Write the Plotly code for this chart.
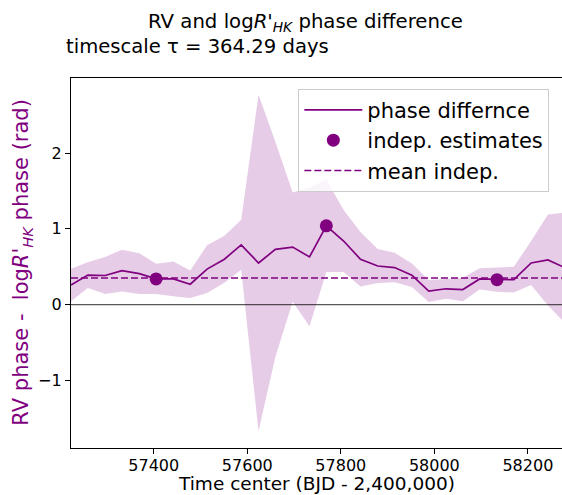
import plotly.graph_objects as go

# ---- data ----
time_center = [57223, 57259, 57296, 57332, 57369, 57405, 57442, 57478, 57514, 57551,
               57587, 57624, 57660, 57697, 57733, 57769, 57806, 57842, 57879, 57915,
               57952, 57988, 58025, 58061, 58097, 58134, 58170, 58207, 58243, 58280]
phase_diff = [0.26, 0.39, 0.385, 0.45, 0.41, 0.34, 0.34, 0.27, 0.47, 0.60,
              0.79, 0.55, 0.73, 0.76, 0.63, 1.04, 0.84, 0.60, 0.51, 0.49,
              0.39, 0.18, 0.21, 0.20, 0.34, 0.33, 0.33, 0.55, 0.59, 0.485]
phase_err = [0.215, 0.17, 0.245, 0.275, 0.27, 0.20, 0.23, 0.18, 0.315, 0.31,
             0.33, 2.22, 1.42, 0.72, 0.915, 0.61, 0.41, 0.36, 0.225, 0.195,
             0.155, 0.145, 0.13, 0.155, 0.14, 0.16, 0.17, 0.29, 0.60, 0.73]
indep_time = [57405, 57769, 58134]
indep_phase = [0.34, 1.04, 0.33]
mean_indep = 0.352

x_range = [57223, 58273]
y_range = [-1.89, 2.99]
x_ticks = [57400, 57600, 57800, 58000, 58200]
y_ticks = [-1, 0, 1, 2]

PURPLE = "#800080"
FONT = "DejaVu Sans"

upper = [p + e for p, e in zip(phase_diff, phase_err)]
lower = [p - e for p, e in zip(phase_diff, phase_err)]

fig = go.Figure()

# error band
fig.add_trace(go.Scatter(x=time_center, y=lower, mode="lines", line=dict(width=0),
                         showlegend=False, hoverinfo="skip"))
fig.add_trace(go.Scatter(x=time_center, y=upper, mode="lines", line=dict(width=0),
                         fill="tonexty", fillcolor="rgba(128,0,128,0.2)",
                         showlegend=False, hoverinfo="skip"))

# zero line
fig.add_trace(go.Scatter(x=x_range, y=[0, 0], mode="lines",
                         line=dict(color="rgba(0,0,0,0.65)", width=1.3),
                         showlegend=False, hoverinfo="skip"))

fig.add_trace(go.Scatter(x=time_center, y=phase_diff, mode="lines",
                         line=dict(color=PURPLE, width=1.7),
                         name="phase differnce", legendgroup="a"))
fig.add_trace(go.Scatter(x=indep_time, y=indep_phase, mode="markers",
                         marker=dict(color=PURPLE, size=13),
                         name="indep. estimates", legendgroup="b"))
fig.add_trace(go.Scatter(x=x_range, y=[mean_indep, mean_indep], mode="lines",
                         line=dict(color=PURPLE, width=1.7, dash="7px,3px"),
                         name="mean indep.", legendgroup="c"))

fig.update_layout(
    width=562, height=495,
    margin=dict(l=71, r=0, t=78, b=47),
    paper_bgcolor="white", plot_bgcolor="white",
    font=dict(family=FONT, color="black"),
    legend=dict(x=0.463, y=0.971, xanchor="left", yanchor="top",
                bgcolor="rgba(255,255,255,0.8)", bordercolor="#cccccc", borderwidth=1,
                font=dict(size=21, family=FONT), traceorder="grouped", tracegroupgap=0,
                itemwidth=58),
    xaxis=dict(range=x_range, tickvals=x_ticks, tickformat="d", showgrid=False, zeroline=False,
               showline=True, linecolor="black", linewidth=1.2, mirror=True,
               ticks="outside", ticklen=5, tickcolor="black", ticklabelstandoff=-2,
               tickfont=dict(size=16, family=FONT)),
    yaxis=dict(range=y_range, tickvals=y_ticks, showgrid=False, zeroline=False,
               showline=True, linecolor="black", linewidth=1.2,
               ticks="outside", ticklen=5, tickcolor="black",
               tickfont=dict(size=16, family=FONT)),
    annotations=[
        dict(text="RV and log<i>R'</i><sub><i>HK</i></sub> phase difference",
             xref="paper", yref="paper", x=(305 - 71) / 491, y=1.149,
             xanchor="center", yanchor="middle", showarrow=False,
             font=dict(size=19.7, family=FONT)),
        dict(text="timescale τ = 364.29 days",
             xref="paper", yref="paper", x=(64 - 71) / 491, y=1.0851,
             xanchor="left", yanchor="middle", showarrow=False,
             font=dict(size=19.6, family=FONT)),
        dict(text="Time center (BJD - 2,400,000)",
             xref="paper", yref="paper", x=(316 - 71) / 491, y=-0.097,
             xanchor="center", yanchor="middle", showarrow=False,
             font=dict(size=18.5, family=FONT)),
        dict(text="RV phase -  log<i>R'</i><sub><i>HK</i></sub> phase (rad)",
             xref="paper", yref="paper", x=(22 - 71) / 491, y=0.501,
             xanchor="center", yanchor="middle", showarrow=False, textangle=-90,
             font=dict(size=21, family=FONT, color=PURPLE)),
    ],
)

fig.write_html("out.html")
